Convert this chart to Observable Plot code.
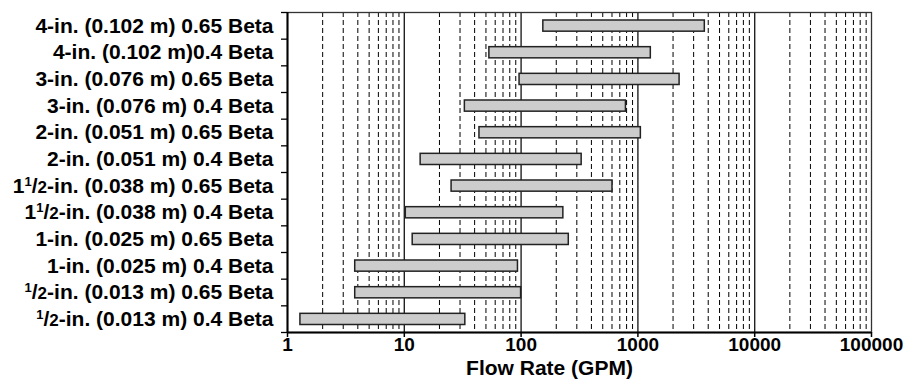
<!DOCTYPE html>
<html>
<head>
<meta charset="utf-8">
<script src="https://cdn.jsdelivr.net/npm/d3@7"></script>
<script src="https://cdn.jsdelivr.net/npm/@observablehq/plot@0.6"></script>
<style>
  html, body { margin: 0; padding: 0; background: #fff; }
  #chart svg { font-family: "Liberation Sans", Arial, sans-serif; font-weight: bold; }
</style>
</head>
<body>
<div id="chart"></div>
<script>
// Categories listed bottom to top
const categories = [
  "\u00B9/2-in. (0.013 m) 0.4 Beta",
  "\u00B9/2-in. (0.013 m) 0.65 Beta",
  "1-in. (0.025 m) 0.4 Beta",
  "1-in. (0.025 m) 0.65 Beta",
  "1\u00B9/2-in. (0.038 m) 0.4 Beta",
  "1\u00B9/2-in. (0.038 m) 0.65 Beta",
  "2-in. (0.051 m) 0.4 Beta",
  "2-in. (0.051 m) 0.65 Beta",
  "3-in. (0.076 m) 0.4 Beta",
  "3-in. (0.076 m) 0.65 Beta",
  "4-in. (0.102 m)0.4 Beta",
  "4-in. (0.102 m) 0.65 Beta"
];
const lowFlow  = [1.29, 3.8, 3.8, 11.8, 10.3, 25.4, 13.8, 44, 33, 97, 53.5, 155];
const highFlow = [33.3, 100, 94, 256, 230, 606, 330, 1060, 790, 2275, 1290, 3740];
const xTicks = [1, 10, 100, 1000, 10000, 100000];
const xLabel = "Flow Rate (GPM)";

const rows = categories.map((c, i) => ({cat: c, i, lo: lowFlow[i], hi: highFlow[i]}));
const decades = xTicks.slice(0, -1);
const minorGrid = decades.flatMap(d => [2,3,4,5,6,7,8,9].map(m => m * d));
const majorGrid = xTicks.slice(1, -1);
const rowEdges = d3.range(categories.length + 1);
const rowCenters = categories.map((c, i) => i + 0.5);

const chart = Plot.plot({
  width: 916,
  height: 386,
  marginLeft: 287,
  marginRight: 45,
  marginTop: 12,
  marginBottom: 54,
  style: {fontSize: "21px", fontFamily: "Liberation Sans, Arial, sans-serif", fontWeight: "bold", color: "#000", background: "#fff"},
  x: {type: "log", domain: [1, 100000]},
  y: {domain: [0, categories.length]},
  marks: [
    Plot.ruleX(minorGrid, {stroke: "#000", strokeWidth: 1, strokeDasharray: "5,3"}),
    Plot.ruleX(majorGrid, {stroke: "#222", strokeWidth: 1.4}),
    Plot.frame({stroke: "#333", strokeWidth: 1.3}),
    Plot.rect(rows, {x1: "lo", x2: "hi", y1: "i", y2: d => d.i + 1, insetTop: 8, insetBottom: 7.5, fill: "#cccccc", stroke: "#222", strokeWidth: 1.5}),
    Plot.axisY(rowEdges, {tickSize: 6, tickFormat: () => "", strokeWidth: 1.3, label: null}),
    Plot.axisY(rowCenters, {tickSize: 0, tickPadding: 14, tickFormat: (d) => categories[Math.floor(d)], fontSize: 21, fontWeight: "bold", label: null}),
    Plot.axisX(xTicks, {tickSize: 5, tickPadding: 0, tickFormat: d => String(d), fontSize: 19, fontWeight: "bold", label: null, strokeWidth: 1.5}),
    Plot.ruleX([1], {stroke: "#000", strokeWidth: 2}),
    Plot.ruleY([0], {stroke: "#000", strokeWidth: 2}),
    Plot.text([xLabel], {frameAnchor: "bottom", dy: 42, dx: -30, fontSize: 21, fontWeight: "bold", fill: "#000"})
  ]
});
document.getElementById("chart").appendChild(chart);

// Typeset the "1/2" fractions with a raised small numerator
chart.querySelectorAll("text").forEach(t => {
  const s = t.textContent;
  const k = s.indexOf("\u00B9/2");
  if (k < 0) return;
  const pre = s.slice(0, k), post = s.slice(k + 3);
  while (t.firstChild) t.removeChild(t.firstChild);
  const ns = "http://www.w3.org/2000/svg";
  const add = (txt, attrs) => {
    const el = document.createElementNS(ns, "tspan");
    el.textContent = txt;
    for (const a in attrs) el.setAttribute(a, attrs[a]);
    t.appendChild(el);
  };
  if (pre) add(pre, {});
  add("1", {"font-size": "13", "dy": "-7"});
  add("/", {"font-size": "21", "dy": "7"});
  add("2", {"font-size": "17"});
  add(post, {"font-size": "21"});
});
</script>
</body>
</html>
